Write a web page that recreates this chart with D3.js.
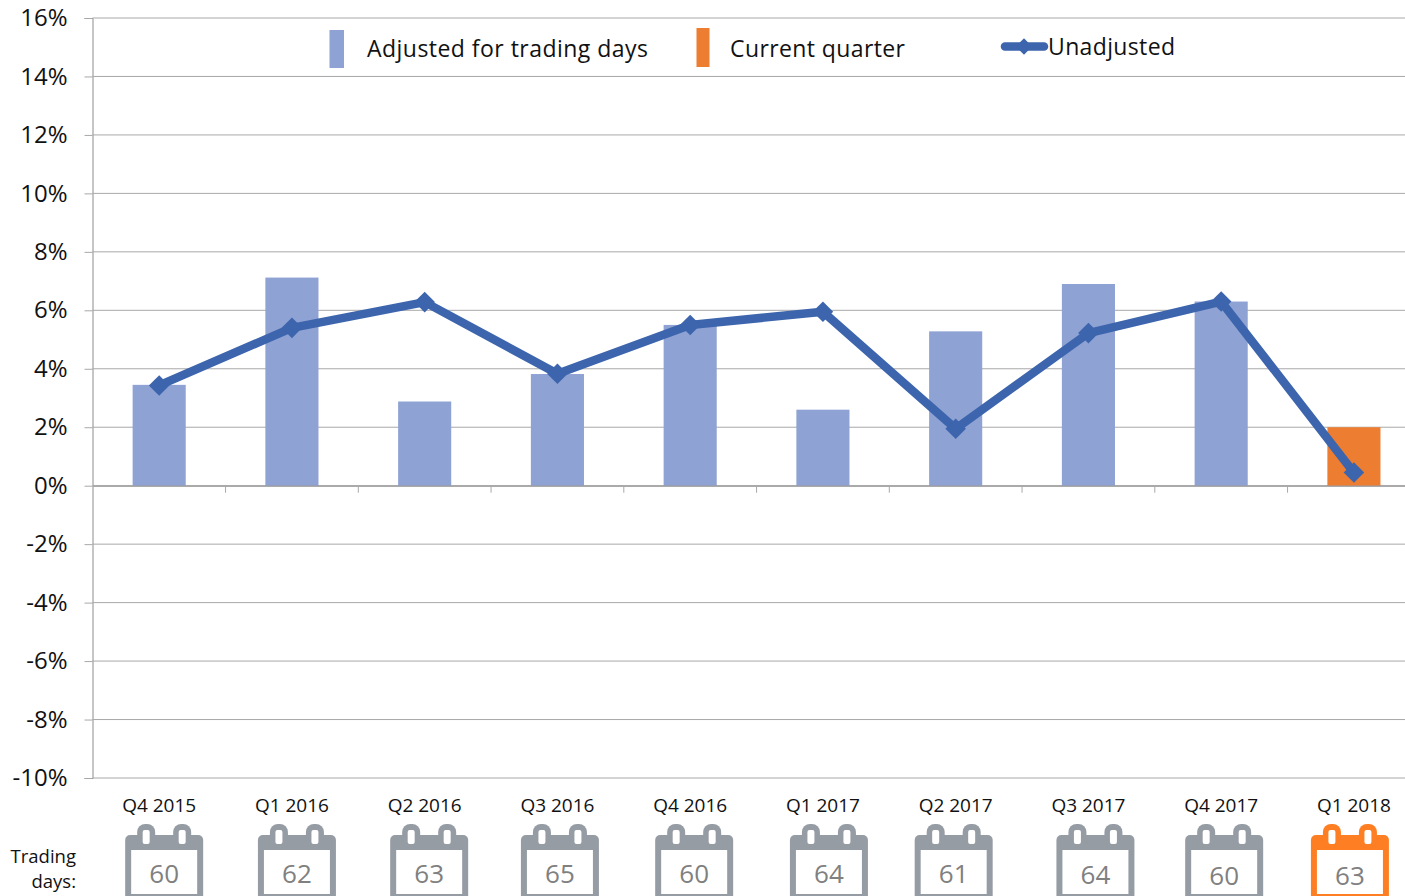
<!DOCTYPE html>
<html><head><meta charset="utf-8">
<script src="https://cdn.jsdelivr.net/npm/d3@7"></script>
<style>
html,body{margin:0;padding:0;background:#fff;overflow:hidden}
text{font-family:"Open Sans",sans-serif;fill:#111}
</style></head><body><div id="chart"></div>
<script>
const categories=["Q4 2015","Q1 2016","Q2 2016","Q3 2016","Q4 2016","Q1 2017","Q2 2017","Q3 2017","Q4 2017","Q1 2018"];
const adjusted=[3.45,7.12,2.88,3.82,5.5,2.6,5.28,6.9,6.3,2.0];
const unadjusted=[3.43,5.4,6.28,3.83,5.5,5.95,1.95,5.22,6.3,0.45];
const tradingDays=[60,62,63,65,60,64,61,64,60,63];
const yTicks=[16,14,12,10,8,6,4,2,0,-2,-4,-6,-8,-10];
const legendLabels=["Adjusted for trading days","Current quarter","Unadjusted"];
const currentQuarter="Q1 2018";
// hand-placed icon offsets in the source picture, relative to each category centre
const iconNudge=[5,5,4.5,2.5,4,6,-2,7,3,-4];
const valueNudge=[0,0,0,0,0,0,0,1,2,2];

const W=1405,H=896;
const BAR="#8fa2d4",ORANGE="#ed7d31",LINE="#3d65ad",GRID="#a8a8a8",AXIS="#8c8c8c",CAL="#959ca3",CALO="#fd7e23";
const svg=d3.select("#chart").append("svg").attr("width",W).attr("height",H).style("display","block");
const x=d3.scaleBand().domain(categories).range([92.8,1420.3]);
const y=d3.scaleLinear().domain([-10,16]).range([778,18]);

// grid + y axis
const yAxis=svg.append("g").attr("transform","translate(92.5,0)")
  .call(d3.axisLeft(y).tickValues(yTicks).tickFormat(d=>d+"%").tickSize(8).tickPadding(17));
yAxis.select(".domain").attr("stroke",AXIS).attr("stroke-width",1);
yAxis.selectAll("line").attr("stroke",GRID).attr("stroke-width",1);
yAxis.selectAll("text").style("font-size","24px").style("fill","#111");
svg.append("g").selectAll("line").data(yTicks).join("line")
  .attr("x1",92.5).attr("x2",W).attr("y1",d=>y(d)).attr("y2",d=>y(d))
  .attr("stroke",GRID).attr("stroke-width",1);

// bars
const bw=x.bandwidth()*0.4;
svg.append("g").selectAll("rect").data(categories).join("rect")
  .attr("x",d=>x(d)+x.bandwidth()/2-bw/2).attr("width",bw)
  .attr("y",(d,i)=>y(adjusted[i])).attr("height",(d,i)=>y(0)-y(adjusted[i]))
  .attr("fill",d=>d===currentQuarter?ORANGE:BAR);

// zero axis with category ticks
const xAxis=svg.append("g").attr("transform",`translate(0,${y(0)})`)
  .call(d3.axisBottom(x).tickValues(categories).tickSize(0).tickFormat(""));
xAxis.select(".domain").attr("stroke",AXIS);
xAxis.selectAll(".tick").remove();
svg.append("g").selectAll("line").data(categories.slice(1)).join("line")
  .attr("x1",d=>x(d)).attr("x2",d=>x(d)).attr("y1",y(0)).attr("y2",y(0)+7)
  .attr("stroke",GRID).attr("stroke-width",1);

// line
const cx=d=>x(d)+x.bandwidth()/2;
svg.append("path").attr("fill","none").attr("stroke",LINE).attr("stroke-width",8.5).attr("stroke-linejoin","round")
  .attr("d",d3.line().x(d=>cx(d)).y((d,i)=>y(unadjusted[i]))(categories));
const diamond=d3.symbol().type(d3.symbolDiamond2).size(270);
svg.append("g").selectAll("path").data(categories).join("path")
  .attr("d",diamond).attr("fill",LINE)
  .attr("transform",(d,i)=>`translate(${cx(d)},${y(unadjusted[i])})`);

// category labels
svg.append("g").selectAll("text").data(categories).join("text")
  .attr("x",cx).attr("y",812).attr("text-anchor","middle").style("font-size","19px").text(d=>d);

// calendars
const cal=svg.append("g").selectAll("g").data(categories).join("g")
  .attr("transform",(d,i)=>`translate(${cx(d)+iconNudge[i]},0)`);
cal.each(function(d,i){
  const g=d3.select(this),c=d===currentQuarter?CALO:CAL;
  g.append("rect").attr("x",-39).attr("y",835).attr("width",78).attr("height",70).attr("rx",5).attr("fill",c);
  [-18,18].forEach(o=>{
    g.append("rect").attr("x",o-9).attr("y",824).attr("width",18).attr("height",24).attr("rx",8).attr("fill",c);
    g.append("rect").attr("x",o-3.5).attr("y",830).attr("width",7).attr("height",14).attr("rx",2).attr("fill","#fff");
  });
  g.append("rect").attr("x",-33).attr("y",850).attr("width",66).attr("height",44).attr("fill","#fff");
  g.append("text").attr("x",0).attr("y",883+valueNudge[i]).attr("text-anchor","middle")
    .style("font-size","26px").style("fill","#808080").text(tradingDays[i]);
});

// side label
svg.append("text").attr("x",76).attr("y",863).attr("text-anchor","end").style("font-size","18.5px").text("Trading");
svg.append("text").attr("x",76).attr("y",888).attr("text-anchor","end").style("font-size","18.5px").text("days:");

// legend
svg.append("rect").attr("x",329.5).attr("y",30).attr("width",14.5).attr("height",38).attr("fill",BAR);
svg.append("rect").attr("x",696.5).attr("y",28).attr("width",13).attr("height",39).attr("fill",ORANGE);
svg.append("line").attr("x1",1005).attr("x2",1044).attr("y1",46.5).attr("y2",46.5)
  .attr("stroke",LINE).attr("stroke-width",8.5).attr("stroke-linecap","round");
svg.append("path").attr("d",d3.symbol().type(d3.symbolDiamond2).size(170)).attr("fill",LINE).attr("transform","translate(1024,46.5)");
const lg=[[367,57,281],[730,57,175],[1048,55,127]];
svg.append("g").selectAll("text").data(legendLabels).join("text")
  .attr("x",(d,i)=>lg[i][0]).attr("y",(d,i)=>lg[i][1]).attr("textLength",(d,i)=>lg[i][2])
  .style("font-size","23px").text(d=>d);
</script></body></html>
